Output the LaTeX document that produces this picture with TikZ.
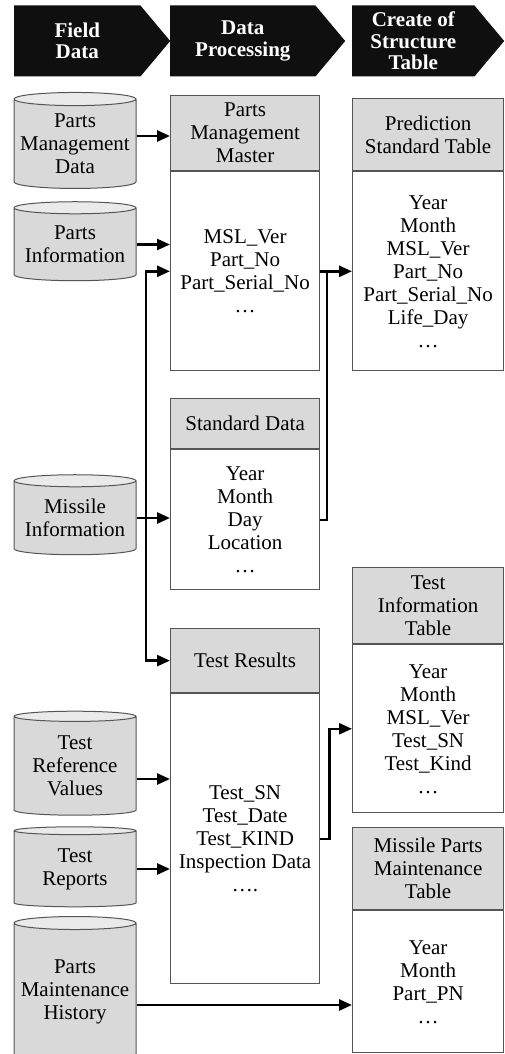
\documentclass[tikz,border=0pt]{standalone}
\usepackage{fontspec}
\setmainfont{Liberation Serif}
\usetikzlibrary{positioning,arrows.meta,shapes.geometric,shapes.symbols}

\definecolor{hdgray}{RGB}{217,217,217}
\definecolor{endgray}{RGB}{234,234,234}
\definecolor{edgegray}{RGB}{85,85,85}

\begin{document}
\begin{tikzpicture}[
  x=1pt, y=-1pt,
  font=\fontsize{21}{23}\selectfont,
  stage/.style={signal, signal to=east, signal pointer angle=100, fill=black!94,
                text=white, font=\fontsize{21}{21.5}\selectfont\bfseries, align=center,
                minimum height=71pt, inner sep=0pt, anchor=west},
  db/.style={cylinder, shape border rotate=90, aspect=0.12, draw=edgegray, line width=1pt,
             cylinder uses custom fill, cylinder body fill=hdgray, cylinder end fill=endgray,
             minimum width=122pt, align=center, inner sep=0pt},
  thead/.style={draw=edgegray, line width=1.2pt, fill=hdgray, align=center, inner sep=0pt,
                anchor=north west},
  tbody/.style={draw=edgegray, line width=1.2pt, fill=white, align=center, inner sep=0pt,
                below=0pt of #1},
  lcol/.style={minimum width=149pt},
  rcol/.style={minimum width=151pt},
  arr/.style={-{Triangle[length=13pt,width=11pt]}, line width=2.6pt},
  link/.style={line width=2.6pt}
]
\useasboundingbox (0,0) rectangle (504,1054);
\clip (0,0) rectangle (504,1054);
% ----- stage banner -----
\node[stage, minimum width=156pt] (field) at (14,41) {Field\\Data};
\node[stage, minimum width=175pt] (proc) at (170,41) {Data\\Processing};
\node[stage, minimum width=152pt] (create) at (352,41) {Create of\\Structure\\Table};
% ----- field data sources -----
\node[db, minimum height=96pt] (pmd) at (75,144) {Parts\\Management\\Data};
\node[db, minimum height=79pt] (pi) at (75,244.5) {Parts\\Information};
\node[db, minimum height=80pt] (mi) at (75,518) {Missile\\Information};
\node[db, minimum height=104pt] (trv) at (75,766) {Test\\Reference\\Values};
\node[db, minimum height=80pt] (trp) at (75,869) {Test\\Reports};
\node[db, minimum height=144pt] (pmh) at (75,992) {Parts\\Maintenance\\History};
% ----- processing tables -----
\node[thead, lcol, minimum height=75pt] (pmmHead) at (170,95) {Parts\\Management\\Master};
\node[tbody=pmmHead, lcol, minimum height=199pt] (pmm) {MSL\_Ver\\Part\_No\\Part\_Serial\_No\\\ldots};
\node[thead, lcol, minimum height=50pt] (sdHead) at (170,398) {Standard Data};
\node[tbody=sdHead, lcol, minimum height=140pt] (sd) {Year\\Month\\Day\\Location\\\ldots};
\node[thead, lcol, minimum height=64pt] (trHead) at (170,628) {Test Results};
\node[tbody=trHead, lcol, minimum height=290pt] (tr) {Test\_SN\\Test\_Date\\Test\_KIND\\Inspection Data\\\ldots.};
% ----- structure tables -----
\node[thead, rcol, minimum height=72pt] (pstHead) at (352,98) {Prediction\\Standard Table};
\node[tbody=pstHead, rcol, minimum height=199pt] (pst) {Year\\Month\\MSL\_Ver\\Part\_No\\Part\_Serial\_No\\Life\_Day\\\ldots};
\node[thead, rcol, minimum height=76pt] (titHead) at (352,567) {Test\\Information\\Table};
\node[tbody=titHead, rcol, minimum height=168pt] (tit) {Year\\Month\\MSL\_Ver\\Test\_SN\\Test\_Kind\\\ldots};
\node[thead, rcol, minimum height=82pt] (mpmtHead) at (352,827) {Missile Parts\\Maintenance\\Table};
\node[tbody=mpmtHead, rcol, minimum height=142pt] (mpmt) {Year\\Month\\Part\_PN\\\ldots};
% ----- connectors -----
\coordinate (bus) at (146,0);
\coordinate (rbus) at (327,0);
\draw[arr] ([yshift=8pt]pmd.east) -- ([yshift=8pt]pmd.east -| pmmHead.west);
\draw[arr] (pi.east) -- (pi.east -| pmm.west);
\draw[arr] (mi.east) -- (mi.east -| sd.west);
\draw[arr] (mi.east -| bus) |- (pmm.west);
\draw[arr] (mi.east -| bus) |- (trHead.west);
\draw[arr] (pmm.east) -- (pst.west);
\draw[link] (sd.east) -| (rbus |- pmm.east);
\draw[arr] (tr.east) -- ++(9,0) |- (tit.west);
\draw[arr] ([yshift=-13pt]trv.east) -- ([yshift=-13pt]trv.east -| tr.west);
\draw[arr] (trp.east) -- (trp.east -| tr.west);
\draw[arr] ([yshift=-13pt]pmh.east) -- ([yshift=-13pt]pmh.east -| mpmt.west);
\end{tikzpicture}
\end{document}
